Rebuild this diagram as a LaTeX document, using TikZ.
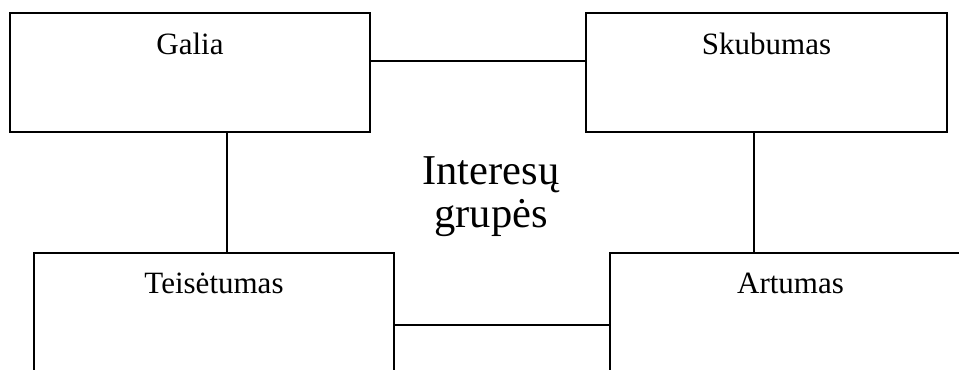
\documentclass[tikz,border=0pt]{standalone}
\usepackage{fontspec}
\setmainfont{Liberation Serif}
\begin{document}
\begin{tikzpicture}[x=1bp,y=-1bp,
  boxnode/.style={draw=black, line width=1.7bp, rectangle, minimum width=360bp, minimum height=119bp, inner sep=0pt, fill=white},
  boxlabel/.style={anchor=base, inner sep=0pt, font=\fontsize{31bp}{37bp}\selectfont},
  conn/.style={draw=black, line width=1.7bp},
  centertext/.style={align=center, inner sep=0pt, font=\fontsize{42.5bp}{43bp}\selectfont}]
\useasboundingbox (0,0) rectangle (959,369);
\clip (0,0) rectangle (959,369);
\fill[white] (0,0) rectangle (959,369);
% boxes
\node[boxnode] (galia) at (190,72.5) {};
\node[boxnode, minimum width=361bp] (skub) at (766.5,72.5) {};
\node[boxnode] (teis) at (214,312.5) {};
\node[boxnode, minimum width=361bp] (art) at (790.5,312.5) {};
% labels
\node[boxlabel] (galiaL) at (190,54) {Galia};
\node[boxlabel] (skubL) at (766.5,54) {Skubumas};
\node[boxlabel] (teisL) at (214,293) {Teisėtumas};
\node[boxlabel] (artL) at (790.5,293) {Artumas};
% centre text
\node[centertext, anchor=base] (ig1) at (491,184) {Interesų};
\node[centertext, anchor=base] (ig2) at (491,227) {grupės};
% connectors
\draw[conn] ([yshift=11.5bp]galia.east) -- ([yshift=11.5bp]skub.west);
\coordinate (g1) at ([xshift=36.7bp]galia.south);
\draw[conn] (g1) -- (g1 |- teis.north);
\coordinate (s1) at ([xshift=-12.2bp]skub.south);
\draw[conn] (s1) -- (s1 |- art.north);
\draw[conn] ([yshift=-12.5bp]teis.east) -- ([yshift=-12.5bp]art.west);
\end{tikzpicture}
\end{document}
